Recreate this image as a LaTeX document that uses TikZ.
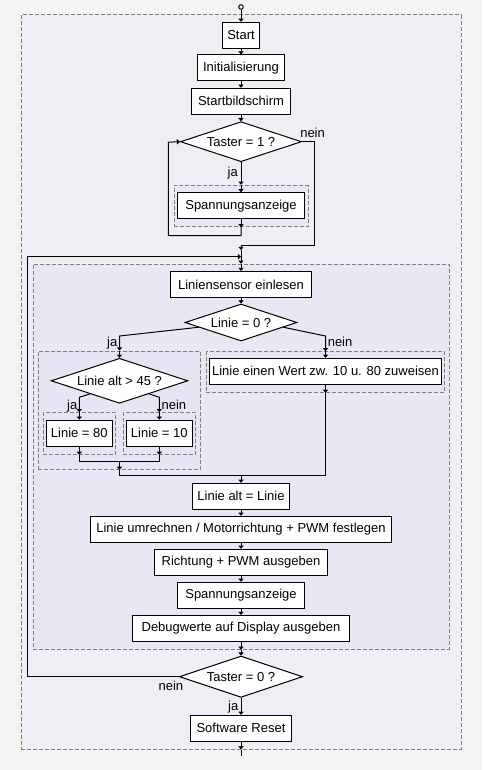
\documentclass[tikz,border=0pt]{standalone}
\usepackage{fontspec}
\setmainfont{Liberation Sans}
\usetikzlibrary{arrows.meta,shapes.geometric,calc}
\definecolor{bgout}{HTML}{F3F4F1}
\definecolor{grpA}{HTML}{EEEEF4}
\definecolor{grpB}{HTML}{E8E8F5}
\definecolor{grpC}{HTML}{E5E5F3}
\definecolor{dashc}{HTML}{808080}
\begin{document}
\begin{tikzpicture}[x=0.75pt,y=-0.75pt,
  every node/.style={font=\fontsize{9.75pt}{11pt}\selectfont},
  box/.style={draw=black,line width=0.75pt,fill=white,minimum height=19.5pt,inner sep=0pt},
  dia/.style={draw=black,line width=0.75pt,fill=white,diamond,inner sep=0pt},
  grp/.style={draw=dashc,line width=0.75pt,dash pattern=on 3pt off 1.5pt,inner sep=0pt},
  conn/.style={line width=0.75pt,black},
  arr/.style={conn,-{Triangle[length=2.4pt,width=3.9pt]}},
  lab/.style={inner sep=0pt}]
\fill[bgout] (0,0) rectangle (482,770);
\useasboundingbox (0,0) rectangle (482,770);
% groups
\node[grp,fill=grpA,minimum width=440*0.75pt,minimum height=734*0.75pt] (outer) at (241,382) {};
\node[grp,fill=grpB,minimum width=416*0.75pt,minimum height=385*0.75pt] (inner) at (241,456.8) {};
\node[grp,fill=grpB,minimum width=134*0.75pt,minimum height=41.4*0.75pt] (g1) at (241,206) {};
\node[grp,fill=grpC,minimum width=162.4*0.75pt,minimum height=118.3*0.75pt] (g2) at (119.5,410.2) {};
\node[grp,fill=grpC,minimum width=72.4*0.75pt,minimum height=41.6*0.75pt] (g3) at (79.3,433.5) {};
\node[grp,fill=grpC,minimum width=72.4*0.75pt,minimum height=41.6*0.75pt] (g4) at (159.3,433.5) {};
\node[grp,fill=grpC,minimum width=238.3*0.75pt,minimum height=40.6*0.75pt] (g5) at (325.5,372) {};
% nodes
\node[circle,draw,line width=0.75pt,fill=white,inner sep=0pt,minimum size=4.5*0.75pt] (startpt) at (241,7) {};
\node[box,minimum width=37*0.75pt] (start) at (241,35.3) {Start};
\node[box,minimum width=87.4*0.75pt] (init) at (241,68) {Initialisierung};
\node[box,minimum width=99*0.75pt] (startbild) at (241,101.3) {Startbildschirm};
\node[dia,minimum width=121*0.75pt,minimum height=40*0.75pt,label={center:Taster = 1 ?}] (d1) at (241,141.7) {};
\node[box,minimum width=127.7*0.75pt] (spg1) at (241,205.7) {Spannungsanzeige};
\node[box,minimum width=141*0.75pt] (liniensensor) at (241,284.5) {Liniensensor einlesen};
\node[dia,minimum width=112*0.75pt,minimum height=37*0.75pt,label={center:Linie = 0 ?}] (d2) at (241,322.5) {};
\node[dia,minimum width=136.7*0.75pt,minimum height=45*0.75pt,label={center:Linie alt > 45 ?}] (d3) at (119.5,380.8) {};
\node[box,minimum width=65.7*0.75pt] (l80) at (79.3,433.2) {Linie = 80};
\node[box,minimum width=65.4*0.75pt] (l10) at (159.3,433.2) {Linie = 10};
\node[box,minimum width=231.3*0.75pt] (wert) at (325.5,371.3) {Linie einen Wert zw. 10 u. 80 zuweisen};
\node[box,minimum width=97*0.75pt] (linalt) at (241,496.3) {Linie alt = Linie};
\node[box,minimum width=301*0.75pt] (umrechnen) at (241,529.3) {Linie umrechnen / Motorrichtung + PWM festlegen};
\node[box,minimum width=173*0.75pt] (richtung) at (241,562.3) {Richtung + PWM ausgeben};
\node[box,minimum width=127*0.75pt] (spg2) at (241,595.3) {Spannungsanzeige};
\node[box,minimum width=217*0.75pt] (debug) at (241,628.5) {Debugwerte auf Display ausgeben};
\node[dia,minimum width=123.3*0.75pt,minimum height=41.3*0.75pt,label={center:Taster = 0 ?}] (d4) at (241,676.7) {};
\node[box,minimum width=101.3*0.75pt] (reset) at (241,728.3) {Software Reset};
% coordinates
\coordinate (m1) at (241,245);
\coordinate (m2) at (241,250);
\coordinate (m3) at (241,256.7);
\coordinate (mg) at (119.5,461.5);
\coordinate (mg2) at (241,475.5);
\coordinate (endpt) at (241,756);
% connectors
\draw[arr] (startpt) -- (start);
\draw[arr] (start) -- (init);
\draw[arr] (init) -- (startbild);
\draw[arr] (startbild) -- (d1);
\draw[arr] (d1) -- (g1.north);
\draw[arr] (g1.north) -- (spg1);
\draw[arr] (spg1) -- (g1.south);
\draw[arr] (g1.south) -- ++(0,8.3) -| ++(-72.7,-93.3) -- (d1.west);
\draw[conn] (d1.east) -- ++(12.6,0) |- (m1);
\draw[arr] (m1) -- (m2);
\draw[conn] (m2) -- (m3);
\draw[arr] (m3) -- (inner.north);
\draw[arr] (inner.north) -- (liniensensor);
\draw[arr] (liniensensor) -- (d2);
\draw[arr] ($(d2.west)!0.25!(d2.south)$) -- (g2.north |- 0,336) -- (g2.north);
\draw[arr] (g2.north) -- (d3);
\draw[arr] ($(d2.east)!0.25!(d2.south)$) -- (g5.north |- 0,336) -- (g5.north);
\draw[arr] (g5.north) -- (wert);
\draw[arr] (wert) -- (g5.south);
\draw[arr] ($(d3.west)!0.57!(d3.south)$) -- (g3.north |- 0,397.3) -- (g3.north);
\draw[arr] ($(d3.east)!0.57!(d3.south)$) -- (g4.north |- 0,397.3) -- (g4.north);
\draw[arr] (g3.north) -- (l80);
\draw[arr] (l80) -- (g3.south);
\draw[arr] (g4.north) -- (l10);
\draw[arr] (l10) -- (g4.south);
\draw[conn] (g3.south) -- (g3.south |- mg) -- (g4.south |- mg) -- (g4.south);
\draw[arr] (mg) -- (g2.south);
\draw[conn] (g2.south) -- (g2.south |- mg2) -- (g5.south |- mg2) -- (g5.south);
\draw[arr] (mg2) -- (linalt);
\draw[arr] (linalt) -- (umrechnen);
\draw[arr] (umrechnen) -- (richtung);
\draw[arr] (richtung) -- (spg2);
\draw[arr] (spg2) -- (debug);
\draw[arr] (debug) -- (inner.south);
\draw[arr] (inner.south) -- (d4);
\draw[arr] (d4.west) -- (27.3,676.7) |- (m3);
\draw[arr] (d4) -- (reset);
\draw[arr] (reset) -- (outer.south);
\draw[conn] (outer.south) -- (endpt);
% labels
\node[lab,anchor=base east] (lja1) at (238,176.7) {ja};
\node[lab,anchor=base west] (lnein1) at (300,137.3) {nein};
\node[lab,anchor=base east] (lja2) at (117.5,346.7) {ja};
\node[lab,anchor=base west] (lnein2) at (327.5,346.7) {nein};
\node[lab,anchor=base east] (lja3) at (77.5,409.3) {ja};
\node[lab,anchor=base west] (lnein3) at (161.3,409.3) {nein};
\node[lab,anchor=base east] (lnein4) at (183.5,690) {nein};
\node[lab,anchor=base east] (lja4) at (238.5,710) {ja};
\end{tikzpicture}
\end{document}
